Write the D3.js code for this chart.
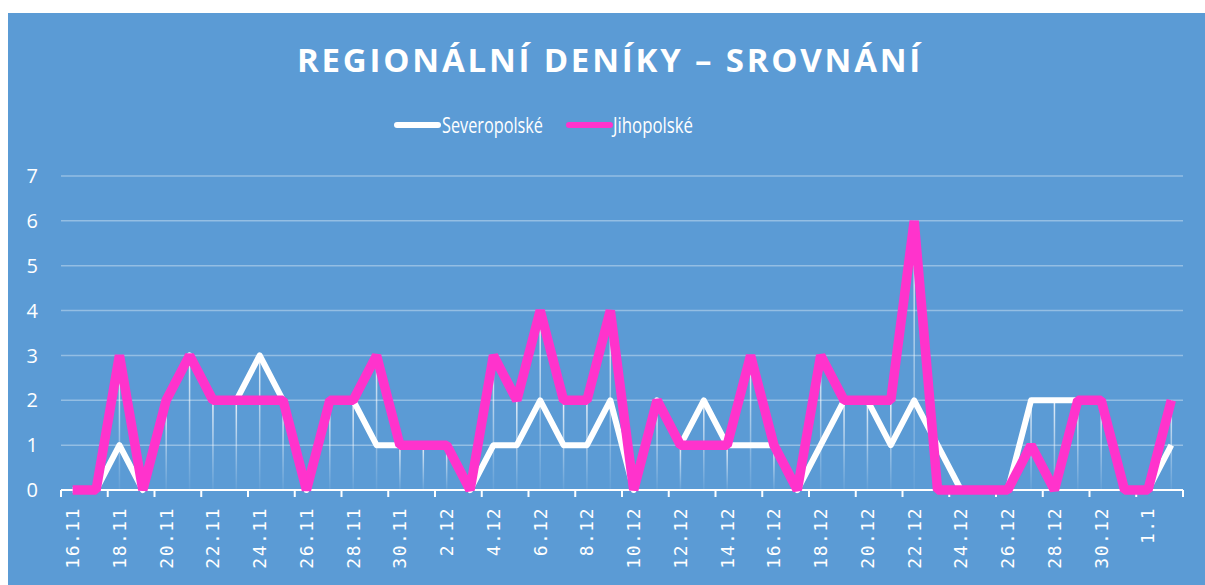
<!DOCTYPE html>
<html>
<head>
<meta charset="utf-8">
<script src="https://cdn.jsdelivr.net/npm/d3@7"></script>
<style>
  html, body { margin: 0; padding: 0; background: #fff; }
  svg { display: block; }
</style>
</head>
<body>
<div id="chart"></div>
<script>
// ------------------
// Data
// ------------------
const dates = [
  "16.11", "17.11", "18.11", "19.11", "20.11", "21.11", "22.11", "23.11", "24.11", "25.11",
  "26.11", "27.11", "28.11", "29.11", "30.11", "1.12", "2.12", "3.12", "4.12", "5.12",
  "6.12", "7.12", "8.12", "9.12", "10.12", "11.12", "12.12", "13.12", "14.12", "15.12",
  "16.12", "17.12", "18.12", "19.12", "20.12", "21.12", "22.12", "23.12", "24.12", "25.12",
  "26.12", "27.12", "28.12", "29.12", "30.12", "31.12", "1.1", "2.1"
];
const severopolske = [
  0, 0, 1, 0, 2, 3, 2, 2, 3, 2,
  0, 2, 2, 1, 1, 1, 1, 0, 1, 1,
  2, 1, 1, 2, 0, 2, 1, 2, 1, 1,
  1, 0, 1, 2, 2, 1, 2, 1, 0, 0,
  0, 2, 2, 2, 2, 0, 0, 1
];
const jihopolske = [
  0, 0, 3, 0, 2, 3, 2, 2, 2, 2,
  0, 2, 2, 3, 1, 1, 1, 0, 3, 2,
  4, 2, 2, 4, 0, 2, 1, 1, 1, 3,
  1, 0, 3, 2, 2, 2, 6, 0, 0, 0,
  0, 1, 0, 2, 2, 0, 0, 2
];
const yTicks = [0, 1, 2, 3, 4, 5, 6, 7];
const seriesNames = ["Severopolské", "Jihopolské"];
const seriesColors = ["#FFFFFF", "#FF33CC"];

// ------------------
// Layout
// ------------------
const W = 1205, H = 585;
const bg = "#5B9BD5";
const plot = { left: 61, right: 1183, top: 176, bottom: 490 };

const svg = d3.select("#chart").append("svg")
  .attr("width", W)
  .attr("height", H);

svg.append("rect")
  .attr("x", 8).attr("y", 13)
  .attr("width", W - 8).attr("height", H - 13)
  .attr("fill", bg);

const x = d3.scaleBand().domain(dates).range([plot.left, plot.right]).padding(0);
const cx = d => x(d) + x.bandwidth() / 2;
const y = d3.scaleLinear().domain([0, 7]).range([plot.bottom, plot.top]);

// Title
svg.append("text")
  .attr("x", 610).attr("y", 72)
  .attr("text-anchor", "middle")
  .attr("fill", "#fff")
  .style("font-family", "'Open Sans', sans-serif")
  .style("font-weight", "700")
  .style("font-size", "33px")
  .style("letter-spacing", "2.8px")
  .text("REGIONÁLNÍ DENÍKY – SROVNÁNÍ");

// Legend
const legendItems = [
  { name: seriesNames[0], color: seriesColors[0], x1: 397, x2: 438, tx: 442, tw: 101 },
  { name: seriesNames[1], color: seriesColors[1], x1: 569, x2: 610, tx: 613, tw: 80 }
];
legendItems.forEach(it => {
  svg.append("line")
    .attr("x1", it.x1).attr("x2", it.x2)
    .attr("y1", 125).attr("y2", 125)
    .attr("stroke", it.color)
    .attr("stroke-width", 6)
    .attr("stroke-linecap", "round");
  svg.append("text")
    .attr("x", it.tx).attr("y", 133)
    .attr("fill", "#fff")
    .attr("textLength", it.tw)
    .attr("lengthAdjust", "spacingAndGlyphs")
    .style("font-family", "'Open Sans', sans-serif")
    .style("font-size", "21px")
    .text(it.name);
});

// Gridlines + y labels
const grid = svg.append("g");
yTicks.forEach(t => {
  if (t > 0) {
    grid.append("line")
      .attr("x1", plot.left).attr("x2", plot.right)
      .attr("y1", y(t)).attr("y2", y(t))
      .attr("stroke", "rgba(255,255,255,0.35)")
      .attr("stroke-width", 1.5);
  }
  grid.append("text")
    .attr("x", 38).attr("y", y(t))
    .attr("dy", "0.36em")
    .attr("text-anchor", "end")
    .attr("fill", "#fff")
    .style("font-family", "'Open Sans', sans-serif")
    .style("font-size", "20px")
    .text(t);
});

// Drop lines (fading towards the axis)
const defs = svg.append("defs");
const grad = defs.append("linearGradient")
  .attr("id", "dropGrad")
  .attr("x1", 0).attr("x2", 0).attr("y1", 0).attr("y2", 1);
grad.append("stop").attr("offset", "0%").attr("stop-color", "#fff").attr("stop-opacity", 0.85);
grad.append("stop").attr("offset", "100%").attr("stop-color", "#fff").attr("stop-opacity", 0.05);

const maxVals = dates.map((d, i) => Math.max(severopolske[i], jihopolske[i]));
svg.append("g").selectAll("rect")
  .data(dates.filter((d, i) => maxVals[i] > 0))
  .join("rect")
  .attr("x", d => cx(d) - 0.75)
  .attr("width", 1.5)
  .attr("y", d => y(maxVals[dates.indexOf(d)]))
  .attr("height", d => plot.bottom - y(maxVals[dates.indexOf(d)]))
  .attr("fill", "url(#dropGrad)");

// X axis
const axis = svg.append("g");
axis.append("line")
  .attr("x1", plot.left).attr("x2", plot.right)
  .attr("y1", plot.bottom).attr("y2", plot.bottom)
  .attr("stroke", "#fff")
  .attr("stroke-width", 2);

const tickXs = dates.filter((d, i) => i % 2 === 0).map(d => x(d)).concat([plot.right]);
axis.selectAll("line.tick")
  .data(tickXs)
  .join("line")
  .attr("class", "tick")
  .attr("x1", d => d).attr("x2", d => d)
  .attr("y1", plot.bottom).attr("y2", plot.bottom + 7)
  .attr("stroke", "#fff")
  .attr("stroke-width", 2);

axis.selectAll("text")
  .data(dates.filter((d, i) => i % 2 === 0))
  .join("text")
  .attr("transform", d => `translate(${cx(d)},${plot.bottom + 17}) rotate(-90)`)
  .attr("dy", "0.35em")
  .attr("text-anchor", "end")
  .attr("fill", "#fff")
  .style("font-family", "'DejaVu Sans Mono', monospace")
  .style("font-size", "18px")
  .style("letter-spacing", "1.5px")
  .text(d => d);

// Lines
const line = d3.line()
  .x((v, i) => cx(dates[i]))
  .y(v => y(v));

svg.append("path")
  .datum(severopolske)
  .attr("d", line)
  .attr("fill", "none")
  .attr("stroke", seriesColors[0])
  .attr("stroke-width", 6)
  .attr("stroke-linejoin", "round");

svg.append("path")
  .datum(jihopolske)
  .attr("d", line)
  .attr("fill", "none")
  .attr("stroke", seriesColors[1])
  .attr("stroke-width", 9.5)
  .attr("stroke-linejoin", "bevel");
</script>
</body>
</html>
